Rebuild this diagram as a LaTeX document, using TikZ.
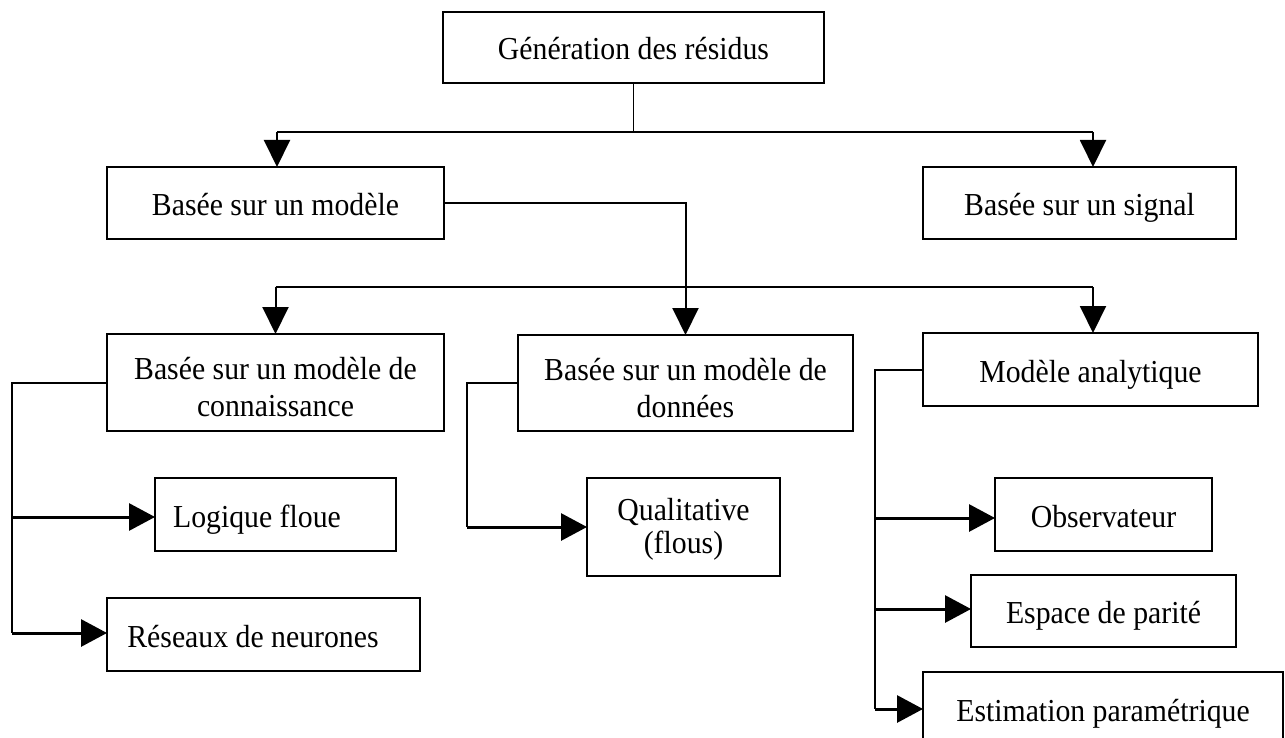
\documentclass[tikz,border=0pt]{standalone}
\usepackage{fontspec}
\setmainfont[FakeStretch=0.93]{Liberation Serif}
\usetikzlibrary{arrows.meta}

\begin{document}
\begin{tikzpicture}[x=0.5pt, y=-0.5pt,
  box/.style={draw, line width=1pt, inner sep=0pt, outer sep=0pt, align=center,
              font=\fontsize{16}{18.5}\selectfont, text height=14pt, text depth=1.5pt},
  twoline/.style={text height=35.5pt},
  link/.style={line width=0.8pt},
  down/.style={line width=1pt, -{Triangle[length=13.5pt, width=13pt]}},
  side/.style={line width=1.5pt, -{Triangle[length=13pt, width=13.5pt]}}]

\useasboundingbox (0,0) rectangle (1285,738);

% boxes
\node[box, minimum width=190.5pt, minimum height=35.5pt] (top)     at (633.5,47.5) {Génération des résidus};
\node[box, minimum width=168.5pt, minimum height=36pt]   (modele)  at (275.5,203)  {Basée sur un modèle};
\node[box, minimum width=156.5pt, minimum height=36pt]   (signal)  at (1079.5,203) {Basée sur un signal};
\node[box, twoline, minimum width=168.5pt, minimum height=48.5pt] (conn)    at (275.5,382.5) {Basée sur un modèle de\\connaissance};
\node[box, twoline, minimum width=167.5pt, minimum height=48pt]   (donnees) at (685.5,383)  {Basée sur un modèle de\\données};
\node[box, minimum width=167.5pt, minimum height=36.5pt] (analyt)  at (1090.5,369.5) {Modèle analytique};
\node[box, minimum width=120.5pt, minimum height=36.5pt] (logique) at (275.5,514.5) {Logique floue\hspace*{18.5pt}};
\node[box, minimum width=156.5pt, minimum height=36.5pt] (reseaux) at (263.5,634.5) {Réseaux de neurones\hspace*{10.5pt}};
\node[box, text height=27.5pt, font=\fontsize{16}{16.5}\selectfont,
      minimum width=96.5pt, minimum height=49pt] (qualit) at (683.5,527) {Qualitative\\(flous)};
\node[box, minimum width=108.5pt, minimum height=36.5pt] (observ)  at (1103.5,514.5) {Observateur};
\node[box, minimum width=132.5pt, minimum height=36pt]   (espace)  at (1103.5,611) {Espace de parité};
\node[box, minimum width=180pt,   minimum height=36.5pt] (estim)   at (1103,708.5) {Estimation paramétrique};

% first level split
\coordinate (a1) at (277,132);
\coordinate (a2) at (1093,132);
\draw[link] (top.south) -- (top.south |- a1);
\draw[link] (a1) -- (a2);
\draw[down] (a1) -- (a1 |- modele.north);
\draw[down] (a2) -- (a2 |- signal.north);

% model-based branch
\draw[down] (modele.east) -| (donnees.north);
\coordinate (b1) at (275.5,287);
\coordinate (b2) at (1093,287);
\draw[link] (b1) -- (b2);
\draw[down] (b1) -- (conn.north);
\draw[down] (b2) -- (b2 |- analyt.north);

% knowledge model
\coordinate (c0) at (12,383);
\coordinate (c1) at (12,517);
\coordinate (c2) at (12,633);
\draw[link] (conn.west |- c0) -- (c0) -- (c2);
\draw[side] (c1) -- (c1 -| logique.west);
\draw[side] (c2) -- (c2 -| reseaux.west);

% data model
\coordinate (d0) at (467,383);
\coordinate (d1) at (467,527);
\draw[link] (donnees.west |- d0) -- (d0) -- (d1);
\draw[side] (d1) -- (d1 -| qualit.west);

% analytical model
\coordinate (e0) at (875,370);
\coordinate (e1) at (875,518);
\coordinate (e2) at (875,609);
\coordinate (e3) at (875,709);
\draw[link] (analyt.west |- e0) -- (e0) -- (e3);
\draw[side] (e1) -- (e1 -| observ.west);
\draw[side] (e2) -- (e2 -| espace.west);
\draw[side] (e3) -- (e3 -| estim.west);
\end{tikzpicture}
\end{document}
